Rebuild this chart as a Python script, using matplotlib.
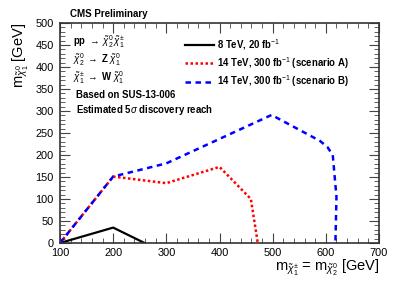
import matplotlib
matplotlib.use("Agg")
import matplotlib.pyplot as plt
from matplotlib.ticker import MultipleLocator

plt.rcParams["font.family"] = ["Liberation Sans", "DejaVu Sans"]
plt.rcParams["mathtext.fontset"] = "custom"
plt.rcParams["mathtext.rm"] = "Liberation Sans"
plt.rcParams["mathtext.it"] = "Liberation Sans:italic"
plt.rcParams["mathtext.bf"] = "Liberation Sans:bold"

# 8 TeV, 20 fb-1
x_8tev = [100, 200, 259]
y_8tev = [0, 35, 0]

# 14 TeV, 300 fb-1 scenario A
x_14a = [100, 200, 300, 400, 459, 472]
y_14a = [0, 151, 136, 173, 100, 0]

# 14 TeV, 300 fb-1 scenario B
x_14b = [100, 200, 300, 498, 589, 603, 613, 620, 618]
y_14b = [0, 151, 181, 291, 232, 218, 200, 105, 0]

labels = ["8 TeV, 20 fb$^{-1}$",
          "14 TeV, 300 fb$^{-1}$ (scenario A)",
          "14 TeV, 300 fb$^{-1}$ (scenario B)"]

fig = plt.figure(figsize=(3.99, 2.86), dpi=100)
ax = fig.add_axes([60 / 399, 1 - 243 / 286, 319 / 399, 220 / 286])

ax.plot(x_8tev, y_8tev, color="black", lw=1.6, label=labels[0])
ax.plot(x_14a, y_14a, color="red", lw=1.8, ls=(0, (1, 1)), label=labels[1])
ax.plot(x_14b, y_14b, color="blue", lw=1.8, ls=(0, (2.2, 1.8)), label=labels[2])

ax.set_xlim(100, 700)
ax.set_ylim(0, 500)
ax.xaxis.set_major_locator(MultipleLocator(100))
ax.xaxis.set_minor_locator(MultipleLocator(20))
ax.yaxis.set_major_locator(MultipleLocator(50))
ax.yaxis.set_minor_locator(MultipleLocator(10))
ax.tick_params(which="both", direction="in", top=True, right=True, labelsize=7.9,
               color="#444444")
ax.tick_params(which="major", length=7, width=0.8)
ax.tick_params(which="minor", length=3.5, width=0.6)
ax.tick_params(axis="x", pad=3.5)
ax.tick_params(axis="y", pad=4.5)
for s in ax.spines.values():
    s.set_linewidth(1.2)
    s.set_color("#333333")

ax.set_xlabel(r"m$_{\tilde{\chi}_1^{\pm}}$ = m$_{\tilde{\chi}_2^{0}}$ [GeV]",
              fontsize=10.5, loc="right", labelpad=0)
ax.set_ylabel(r"m$_{\tilde{\chi}_1^{0}}$ [GeV]", fontsize=10.5, loc="top",
              labelpad=3)

leg = ax.legend(loc="upper left", bbox_to_anchor=(0.365, 0.975), frameon=False,
                handlelength=3.0, handletextpad=0.3, labelspacing=0.3,
                prop={"weight": "bold", "size": 6.9})

fig.text(70 / 399, 1 - 14 / 286, "CMS Preliminary", fontsize=7, weight="bold",
         va="center")
tx = 0.04
fs = 6.9
ax.text(tx, 0.915, r"pp $\rightarrow$ $\tilde{\chi}_2^0\,\tilde{\chi}_1^{\pm}$",
        transform=ax.transAxes, fontsize=fs, weight="bold", va="center")
ax.text(tx, 0.835, r"$\tilde{\chi}_2^0$ $\rightarrow$ Z $\tilde{\chi}_1^0$",
        transform=ax.transAxes, fontsize=fs, weight="bold", va="center")
ax.text(tx, 0.752, r"$\tilde{\chi}_1^{\pm}$ $\rightarrow$ W $\tilde{\chi}_1^0$",
        transform=ax.transAxes, fontsize=fs, weight="bold", va="center")
ax.text(0.05, 0.675, "Based on SUS-13-006", transform=ax.transAxes,
        fontsize=fs, weight="bold", va="center")
ax.text(0.05, 0.603, r"Estimated 5$\sigma$ discovery reach", transform=ax.transAxes,
        fontsize=fs, weight="bold", va="center")

fig.savefig("out.png", dpi=100)
